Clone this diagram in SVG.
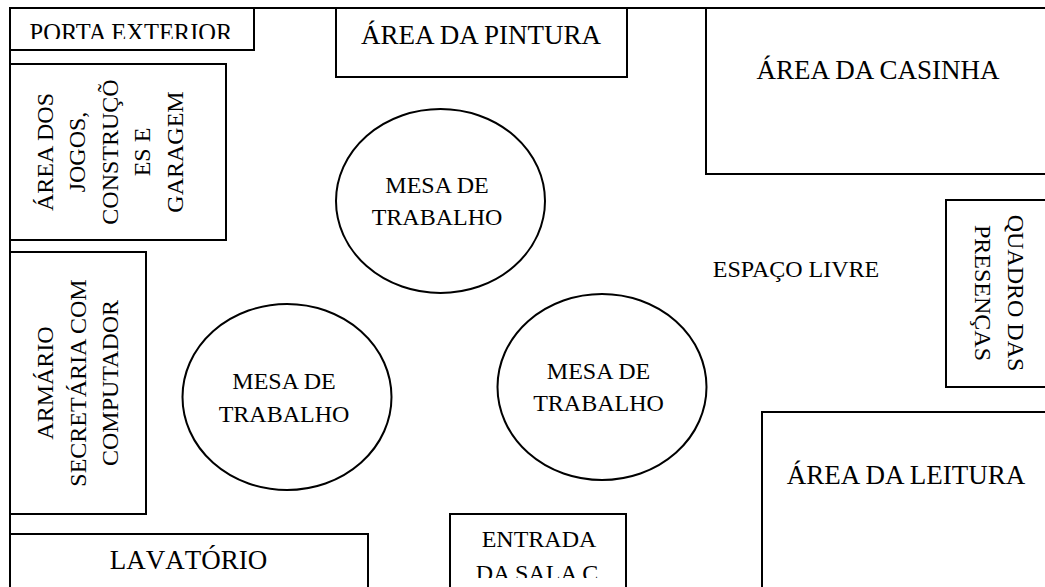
<svg xmlns="http://www.w3.org/2000/svg" width="1045" height="587" viewBox="0 0 1045 587">
<style>
.s{fill:#fff;stroke:#000;stroke-width:2}
.o{fill:none;stroke:#000;stroke-width:2}
text{font-family:"Liberation Serif","Times New Roman",serif;font-size:24px;fill:#000;text-anchor:middle}
.b{font-size:27px}
</style>
<defs>
<clipPath id="cp"><rect x="11" y="9" width="242" height="30"/></clipPath>
<clipPath id="ce"><rect x="451" y="515" width="174" height="63"/></clipPath>
</defs>
<rect width="1045" height="587" fill="#fff"/>
<g id="room"><path class="o" d="M10 587V8H1045"/></g>
<g id="connectors"></g>
<g id="porta"><rect class="s" x="10" y="8" width="244" height="42"/><text x="131" y="41" style="font-size:24.5px" clip-path="url(#cp)">PORTA EXTERIOR</text></g>
<g id="pintura"><rect class="s" x="336" y="8" width="291" height="69"/><text class="b" x="481" y="44">ÁREA DA PINTURA</text></g>
<g id="casinha"><path class="s" d="M1045 174H706V8H1045"/><text class="b" x="878" y="79">ÁREA DA CASINHA</text></g>
<g id="jogos"><rect class="s" x="10" y="64" width="216" height="176"/>
<g transform="translate(0,152) rotate(-90)"><text x="0" y="53">ÁREA DOS</text><text x="0" y="85">JOGOS,</text><text x="0" y="118">CONSTRUÇÕ</text><text x="0" y="150">ES E</text><text x="0" y="183">GARAGEM</text></g></g>
<g id="armario"><rect class="s" x="10" y="252" width="136" height="262"/>
<g transform="translate(0,383) rotate(-90)"><text x="0" y="53">ARMÁRIO</text><text x="0" y="86">SECRETÁRIA COM</text><text x="0" y="118">COMPUTADOR</text></g></g>
<g id="lavatorio"><path class="s" d="M10 587V534H368V587"/><text class="b" x="188.500" y="569" style="font-kerning:none">LAVATÓRIO</text></g>
<g id="entrada"><path class="s" d="M450 587V514H626V587"/><text x="539" y="547">ENTRADA</text><text x="537" y="581" clip-path="url(#ce)">DA SALA C</text></g>
<g id="quadro"><path class="s" d="M1045 200H946V387H1045"/>
<g transform="translate(0,293) rotate(90)"><text x="0" y="-1008">QUADRO DAS</text><text x="0" y="-975">PRESENÇAS</text></g></g>
<g id="leitura"><path class="s" d="M1045 412H762V587"/><text class="b" x="906" y="484">ÁREA DA LEITURA</text></g>
<g id="mesa1"><ellipse class="s" cx="440.500" cy="201" rx="104.500" ry="92"/><text x="437" y="193">MESA DE</text><text x="437" y="225">TRABALHO</text></g>
<g id="mesa2"><ellipse class="s" cx="287" cy="397" rx="104.500" ry="93"/><text x="284" y="389">MESA DE</text><text x="284" y="422">TRABALHO</text></g>
<g id="mesa3"><ellipse class="s" cx="602" cy="387" rx="104.500" ry="93"/><text x="598.500" y="379">MESA DE</text><text x="598.500" y="411">TRABALHO</text></g>
<g id="livre"><text x="796" y="277">ESPAÇO LIVRE</text></g>
</svg>
